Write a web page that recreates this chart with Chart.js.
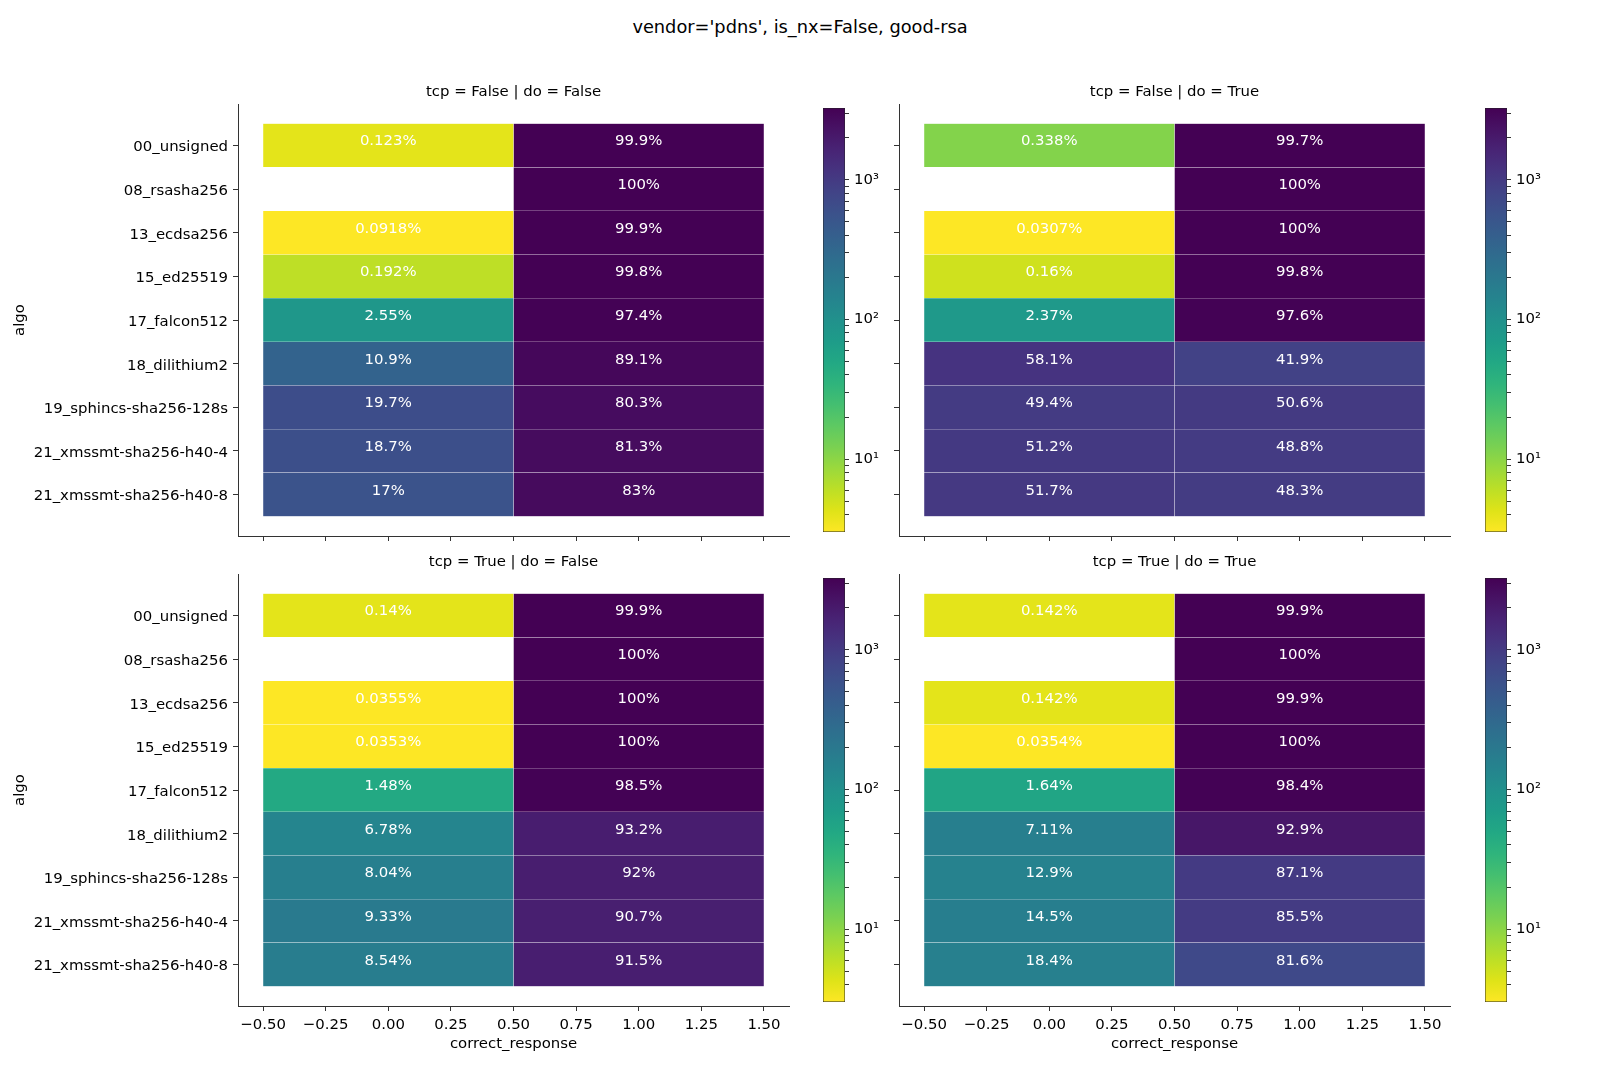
<!DOCTYPE html>
<html>
<head>
<meta charset="utf-8">
<script src="https://cdn.jsdelivr.net/npm/chart.js@4.4.1/dist/chart.umd.min.js"></script>
<style>
  body { margin: 0; background: #fff; width: 1600px; height: 1065px; position: relative; overflow: hidden; font-family: 'DejaVu Sans', sans-serif; }
  canvas { position: absolute; }
  #suptitle { position: absolute; left: 0; width: 1600px; top: 15.5px; line-height: 22px; text-align: center; font-size: 17.8px; color: #000; }
</style>
</head>
<body>
<div id="suptitle">vendor='pdns', is_nx=False, good-rsa</div>
<script>
// ---- data ----
const algos = ['00_unsigned', '08_rsasha256', '13_ecdsa256', '15_ed25519', '17_falcon512',
    '18_dilithium2', '19_sphincs-sha256-128s', '21_xmssmt-sha256-h40-4', '21_xmssmt-sha256-h40-8'];
const panelTitles = ['tcp = False | do = False', 'tcp = False | do = True',
    'tcp = True | do = False', 'tcp = True | do = True'];
const xTicks = [-0.5, -0.25, 0, 0.25, 0.5, 0.75, 1, 1.25, 1.5];
const cbarMajor = [10, 100, 1000];
const cbarMinor = [4, 5, 6, 7, 8, 9, 20, 30, 40, 50, 60, 70, 80, 90, 200, 300, 400, 500, 600, 700, 800, 900, 2000, 3000];

// percentages written in the cells (column 0 / column 1 of correct_response)
const pctFF0 = [0.123, null, 0.0918, 0.192, 2.55, 10.9, 19.7, 18.7, 17];
const pctFF1 = [99.9, 100, 99.9, 99.8, 97.4, 89.1, 80.3, 81.3, 83];
const pctFT0 = [0.338, null, 0.0307, 0.16, 2.37, 58.1, 49.4, 51.2, 51.7];
const pctFT1 = [99.7, 100, 100, 99.8, 97.6, 41.9, 50.6, 48.8, 48.3];
const pctTF0 = [0.14, null, 0.0355, 0.0353, 1.48, 6.78, 8.04, 9.33, 8.54];
const pctTF1 = [99.9, 100, 100, 100, 98.5, 93.2, 92, 90.7, 91.5];
const pctTT0 = [0.142, null, 0.142, 0.0354, 1.64, 7.11, 12.9, 14.5, 18.4];
const pctTT1 = [99.9, 100, 99.9, 100, 98.4, 92.9, 87.1, 85.5, 81.6];

// counts behind the colours (log colour scale)
const cntFF0 = [4, null, 3, 6, 83, 356, 644, 611, 556];
const cntFF1 = [3267, 3270, 3267, 3263, 3185, 2914, 2626, 2659, 2714];
const cntFT0 = [11, null, 1, 5, 77, 1162, 988, 1024, 1034];
const cntFT1 = [3260, 3270, 3270, 3263, 3192, 838, 1012, 976, 966];
const cntTF0 = [4, null, 1, 1, 48, 136, 161, 187, 171];
const cntTF1 = [3267, 3270, 3269, 3269, 3222, 1864, 1840, 1814, 1830];
const cntTT0 = [4, null, 4, 1, 54, 164, 148, 167, 159];
const cntTT1 = [3267, 3270, 3267, 3269, 3216, 2140, 1000, 985, 705];
const cMin = 3, cMax = 3270;

// ---- colour map (viridis, used reversed) ----
const viridis = ['#440154', '#471365', '#482475', '#463480', '#414487', '#3b528b', '#355f8d',
    '#2f6c8e', '#2a788e', '#25848e', '#21918c', '#1e9c89', '#22a884', '#2fb47c', '#44bf70',
    '#5ec962', '#7ad151', '#9bd93c', '#bddf26', '#dfe318', '#fde725'];

function hexRgb(h) {
    return [parseInt(h.slice(1, 3), 16), parseInt(h.slice(3, 5), 16), parseInt(h.slice(5, 7), 16)];
}

function viridisAt(v) {
    v = Math.min(1, Math.max(0, v));
    const pos = v * (viridis.length - 1);
    const i = Math.min(Math.floor(pos), viridis.length - 2);
    const f = pos - i;
    const a = hexRgb(viridis[i]), b = hexRgb(viridis[i + 1]);
    const c = a.map((x, k) => Math.round(x + (b[k] - x) * f));
    return `rgb(${c[0]}, ${c[1]}, ${c[2]})`;
}

function cellColor(count) {
    const t = Math.log(count / cMin) / Math.log(cMax / cMin);
    return viridisAt(1 - t);
}

const fmt3g = v => String(Number(v.toPrecision(3)));
const fmtTick = v => (v < 0 ? '\u2212' : '') + Math.abs(v).toFixed(2);
const supDigits = { 1: '\u00b9', 2: '\u00b2', 3: '\u00b3' };

// ---- layout ----
const FONT = 'DejaVu Sans';
const FS = 14.9;
const AX_LEFT = [238, 899], AX_W = 551;
const AX_TOP = [104, 574], AX_H = 432;
const CB_LEFT = [823, 1485], CB_W = 22;

const panels = [
    { pct: [pctFF0, pctFF1], cnt: [cntFF0, cntFF1] },
    { pct: [pctFT0, pctFT1], cnt: [cntFT0, cntFT1] },
    { pct: [pctTF0, pctTF1], cnt: [cntTF0, cntTF1] },
    { pct: [pctTT0, pctTT1], cnt: [cntTT0, cntTT1] }
];

const cellLabels = {
    id: 'cellLabels',
    afterDatasetsDraw(chart) {
        const ctx = chart.ctx;
        ctx.save();
        ctx.font = `${FS}px "${FONT}"`;
        ctx.fillStyle = '#ffffff';
        ctx.textAlign = 'center';
        ctx.textBaseline = 'alphabetic';
        chart.data.datasets.forEach((ds, di) => {
            chart.getDatasetMeta(di).data.forEach((bar, i) => {
                const { x, y, base } = bar.getProps(['x', 'y', 'base'], true);
                ctx.fillText(ds.pctLabels[i], (x + base) / 2, y);
            });
        });
        ctx.restore();
    }
};

function makeColumn(pct, cnt, col) {
    const pts = [], colors = [], labels = [];
    pct.forEach((p, i) => {
        if (p === null) return;
        pts.push({ x: [col - 0.5, col + 0.5], y: i });
        colors.push(cellColor(cnt[i]));
        labels.push(fmt3g(p) + '%');
    });
    return {
        data: pts,
        backgroundColor: colors,
        pctLabels: labels,
        grouped: false,
        barPercentage: 1,
        categoryPercentage: 1,
        borderWidth: 0.5,
        borderColor: 'rgba(255,255,255,0.07)',
        borderSkipped: false
    };
}

function addCanvas(left, top, w, h) {
    const c = document.createElement('canvas');
    c.width = w;
    c.height = h;
    c.style.left = left + 'px';
    c.style.top = top + 'px';
    c.style.width = w + 'px';
    c.style.height = h + 'px';
    document.body.appendChild(c);
    return c;
}

panels.forEach((p, k) => {
    const col = k % 2, row = Math.floor(k / 2);
    const left = col === 0 ? 0 : 880;
    const lh = FS * 1.2;
    const padBottom = 12 - lh / 2;
    const top = Math.floor(AX_TOP[row] - padBottom - lh - 6);
    const padTop = AX_TOP[row] - padBottom - lh - top;
    const bottom = row === 0 ? AX_TOP[0] + AX_H + 14 : 1065;
    const xAxisH = bottom - (AX_TOP[row] + AX_H);
    const width = AX_LEFT[col] + AX_W + 12 - left;
    const canvas = addCanvas(left, top, width, bottom - top);

    const tickFont = { family: FONT, size: FS };
    const gridOpts = { display: true, offset: false, drawOnChartArea: false, drawTicks: true, tickLength: 5, color: '#333', lineWidth: 1 };

    new Chart(canvas, {
        type: 'bar',
        data: { datasets: [makeColumn(p.pct[0], p.cnt[0], 0), makeColumn(p.pct[1], p.cnt[1], 1)] },
        options: {
            responsive: false,
            animation: false,
            devicePixelRatio: 1,
            indexAxis: 'y',
            layout: { padding: { left: 0, right: 12, top: 0, bottom: 0 } },
            plugins: {
                legend: { display: false },
                tooltip: { enabled: false },
                title: {
                    display: true,
                    fullSize: false,
                    text: panelTitles[k],
                    color: '#000',
                    font: { family: FONT, size: FS, weight: 'normal' },
                    padding: { top: padTop, bottom: padBottom }
                }
            },
            scales: {
                x: {
                    type: 'linear',
                    min: -0.6,
                    max: 1.6,
                    offset: false,
                    grid: gridOpts,
                    border: { display: true, color: '#333', width: 1 },
                    ticks: { display: row === 1, color: '#000', font: tickFont, padding: 5, autoSkip: false, maxRotation: 0, callback: v => fmtTick(v) },
                    title: { display: row === 1, text: 'correct_response', color: '#000', font: tickFont, padding: { top: 0, bottom: 12 } },
                    afterBuildTicks: s => { s.ticks = xTicks.map(v => ({ value: v })); },
                    afterFit: s => { s.height = xAxisH; }
                },
                y: {
                    type: 'linear',
                    min: -0.95,
                    max: 8.95,
                    reverse: true,
                    offset: false,
                    grid: gridOpts,
                    border: { display: true, color: '#333', width: 1 },
                    ticks: { display: col === 0, color: '#000', font: tickFont, padding: 5, labelOffset: 2, autoSkip: false, callback: v => algos[v] },
                    title: { display: col === 0, text: 'algo', color: '#000', font: tickFont, padding: { top: 11, bottom: 0 } },
                    afterBuildTicks: s => { s.ticks = algos.map((a, i) => ({ value: i })); },
                    afterFit: s => { s.width = AX_LEFT[col] - left; }
                }
            }
        },
        plugins: [cellLabels]
    });

    // colour bar
    const cbW = 80;
    const cbCanvas = addCanvas(CB_LEFT[col], AX_TOP[row] - 10, cbW, AX_H + 20);
    new Chart(cbCanvas, {
        type: 'bar',
        data: {
            labels: [''],
            datasets: [{
                data: [[cMin, cMax]],
                backgroundColor: (ctx) => {
                    const area = ctx.chart.chartArea;
                    if (!area) return null;
                    const g = ctx.chart.ctx.createLinearGradient(0, area.bottom, 0, area.top);
                    viridis.forEach((c, i) => g.addColorStop(i / (viridis.length - 1), viridis[viridis.length - 1 - i]));
                    return g;
                },
                borderColor: '#222',
                borderWidth: 0.8,
                borderSkipped: false,
                barPercentage: 1,
                categoryPercentage: 1
            }]
        },
        options: {
            responsive: false,
            animation: false,
            devicePixelRatio: 1,
            layout: { padding: { left: 0, right: 0, top: 10, bottom: 10 } },
            plugins: { legend: { display: false }, tooltip: { enabled: false } },
            scales: {
                x: { display: false },
                y: {
                    type: 'logarithmic',
                    position: 'right',
                    min: cMin,
                    max: cMax,
                    grid: { display: true, drawOnChartArea: false, drawTicks: true, tickLength: 4, color: '#333' },
                    border: { display: false },
                    ticks: {
                        color: '#000',
                        font: { family: FONT, size: FS },
                        padding: 5,
                        autoSkip: false,
                        callback: v => cbarMajor.includes(v) ? '10' + supDigits[Math.round(Math.log10(v))] : ''
                    },
                    afterBuildTicks: s => { s.ticks = cbarMinor.concat(cbarMajor).sort((a, b) => a - b).map(v => ({ value: v })); },
                    afterFit: s => { s.width = cbW - CB_W; }
                }
            }
        }
    });
});
</script>
</body>
</html>
